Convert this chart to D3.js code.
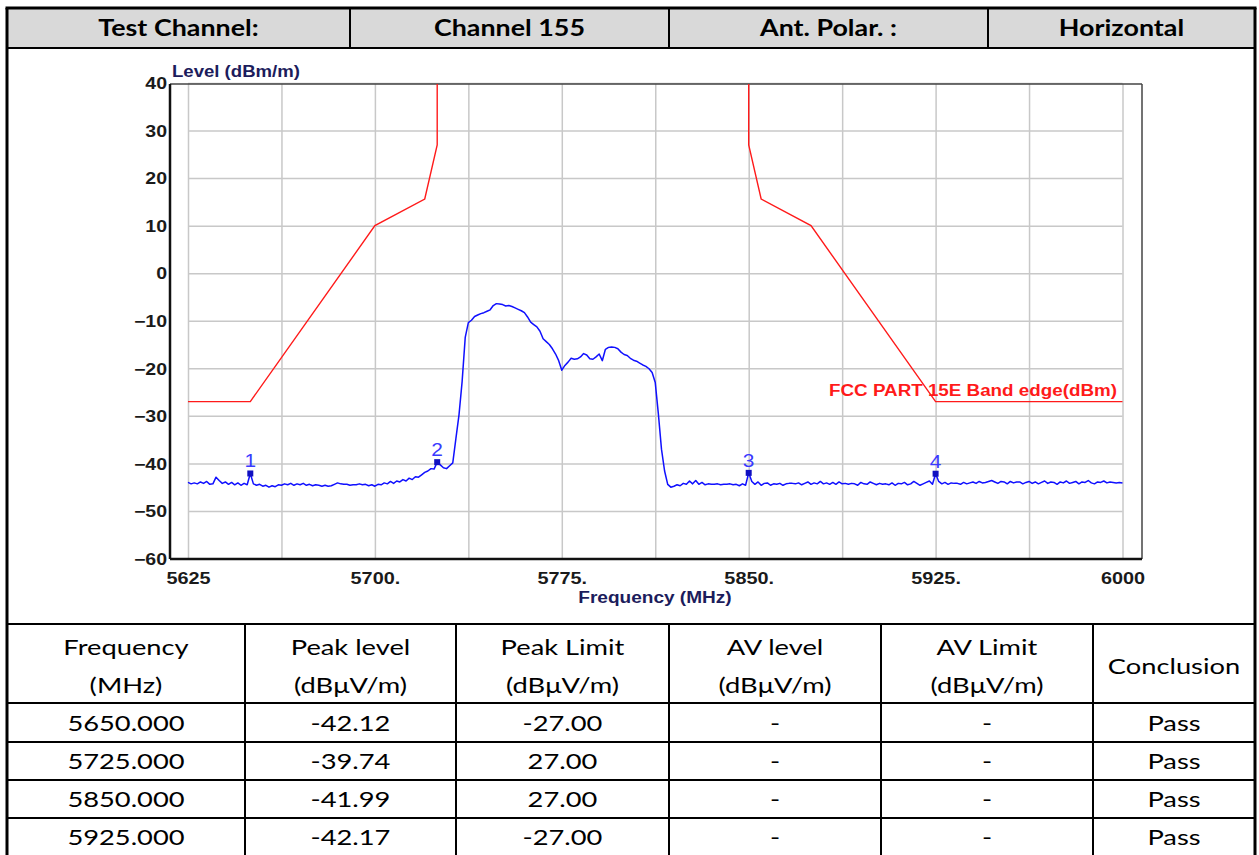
<!DOCTYPE html>
<html>
<head>
<meta charset="utf-8">
<script src="https://cdn.jsdelivr.net/npm/d3@7"></script>
<style>
  html, body { margin: 0; padding: 0; background: #fff; }
  svg { display: block; }
</style>
</head>
<body>
<svg id="page" width="1259" height="855"></svg>
<script>
// ---- header row ----
const headerCells = ["Test Channel:", "Channel 155", "Ant. Polar. :", "Horizontal"];

// ---- spectrum plot axes ----
const yTickValues = [40, 30, 20, 10, 0, -10, -20, -30, -40, -50, -60];
const xTickValues = [5625, 5700, 5775, 5850, 5925, 6000];
const xTickLabels = ["5625", "5700.", "5775.", "5850.", "5925.", "6000"];
const xGridValues = [5625, 5662.5, 5700, 5737.5, 5775, 5812.5, 5850, 5887.5, 5925, 5962.5, 6000];
const yTitle = "Level (dBm/m)";
const xTitle = "Frequency (MHz)";

// ---- measured trace: sweep from 5625 MHz in 1.25 MHz steps (dBm) ----
const traceStartMHz = 5625;
const traceStepMHz = 1.25;
const traceLevel = [
  -44.0, -44.3, -44.1, -44.3, -43.9, -44.2, -43.8, -44.4,   // 5625
  -44.3, -42.9, -43.6, -44.2, -43.9, -44.4, -44.0, -44.5,   // 5635
  -44.1, -44.6, -44.2, -44.5, -42.12, -44.3, -44.6, -44.4,  // 5645
  -44.8, -44.6, -45.0, -44.7, -44.9, -44.5, -44.6, -44.3,   // 5655
  -44.5, -44.2, -44.6, -44.3, -44.5, -44.2, -44.6, -44.4,   // 5665
  -44.7, -44.5, -44.6, -44.8, -44.6, -44.8, -44.7, -44.4,   // 5675
  -44.1, -44.3, -44.4, -44.4, -44.6, -44.5, -44.5, -44.3,   // 5685
  -44.5, -44.4, -44.7, -44.5, -44.8, -44.4, -44.5, -44.1,   // 5695
  -44.3, -43.8, -44.2, -43.7, -43.9, -43.4, -43.7, -43.1,   // 5705
  -43.4, -42.8, -42.9, -42.4, -41.9, -41.6, -41.1, -41.2,   // 5715
  -39.74, -40.3, -40.9, -41.1, -40.5, -39.9, -34.8, -29.8,  // 5725
  -22.8, -13.5, -10.4, -9.9, -9.1, -8.8, -8.5, -8.3,        // 5735
  -8.0, -7.7, -6.8, -6.4, -6.5, -6.6, -6.9, -6.8,           // 5745
  -7.0, -7.3, -7.6, -7.9, -8.3, -9.2, -10.3, -10.8,         // 5755
  -11.3, -12.2, -13.8, -14.4, -15.0, -15.9, -17.0, -18.4,   // 5765
  -20.4, -19.4, -18.7, -17.9, -18.1, -18.0, -17.6, -16.9,   // 5775
  -17.2, -18.0, -18.1, -17.6, -17.0, -18.4, -16.0, -15.6,   // 5785
  -15.5, -15.6, -15.9, -16.6, -17.1, -17.3, -17.9, -18.3,   // 5795
  -18.5, -18.9, -19.3, -19.6, -20.1, -20.9, -23.0, -29.6,   // 5805
  -37.0, -41.6, -44.4, -45.0, -44.8, -44.5, -44.7, -44.2,   // 5815
  -44.4, -43.7, -44.3, -43.6, -44.4, -44.0, -44.5, -44.3,   // 5825
  -44.4, -44.4, -44.3, -44.5, -44.4, -44.4, -44.3, -44.5,   // 5835
  -44.4, -44.7, -44.3, -44.6, -41.99, -43.8, -44.4, -43.9,  // 5845
  -44.6, -44.2, -44.1, -44.6, -44.3, -44.4, -44.2, -44.6,   // 5855
  -44.3, -44.2, -44.2, -44.3, -44.1, -44.5, -44.2, -43.9,   // 5865
  -44.4, -44.1, -44.3, -43.8, -44.3, -44.1, -44.4, -44.0,   // 5875
  -44.4, -43.9, -44.3, -44.2, -44.4, -44.2, -44.3, -44.6,   // 5885
  -44.0, -44.3, -44.4, -43.9, -44.2, -44.5, -44.2, -44.4,   // 5895
  -44.3, -44.5, -44.1, -44.6, -44.2, -44.3, -44.0, -44.5,   // 5905
  -44.3, -43.8, -44.2, -44.6, -44.3, -44.0, -43.7, -44.4,   // 5915
  -42.17, -43.8, -44.3, -44.0, -44.4, -44.1, -44.2, -44.2,  // 5925
  -44.4, -44.0, -44.3, -44.1, -43.9, -44.2, -43.8, -44.1,   // 5935
  -44.0, -43.8, -43.6, -43.9, -44.2, -43.8, -43.9, -44.3,   // 5945
  -43.8, -44.1, -43.9, -43.9, -44.3, -44.0, -43.8, -44.2,   // 5955
  -43.9, -44.3, -44.0, -43.7, -44.2, -43.9, -44.0, -44.4,   // 5965
  -43.9, -44.1, -43.7, -44.2, -44.0, -43.8, -44.3, -43.9,   // 5975
  -44.0, -43.6, -44.1, -44.3, -43.9, -44.0, -43.7, -44.1,   // 5985
  -43.9, -44.0, -44.1, -44.0, -44.1                         // 5995
];

// ---- FCC Part 15E band-edge limit (null splits the two skirts) ----
const limitFreq  = [5625, 5650, 5700, 5720, 5725, 5725, null, 5850, 5850, 5855, 5875, 5925, 6000];
const limitLevel = [-27, -27, 10, 15.6, 27, 40, null, 40, 27, 15.6, 10, -27, -27];
const limitName = "FCC PART 15E Band edge(dBm)";

// ---- markers ----
const markerNo    = ["1", "2", "3", "4"];
const markerFreq  = [5650, 5725, 5850, 5925];
const markerLevel = [-42.12, -39.74, -41.99, -42.17];

// ---- result table ----
const tableHead = [["Frequency", "(MHz)"], ["Peak level", "(dB\u03bcV/m)"], ["Peak Limit", "(dB\u03bcV/m)"],
                   ["AV level", "(dB\u03bcV/m)"], ["AV Limit", "(dB\u03bcV/m)"], ["Conclusion"]];
const resultFreq  = ["5650.000", "5725.000", "5850.000", "5925.000"];
const peakLevel   = ["-42.12", "-39.74", "-41.99", "-42.17"];
const peakLimit   = ["-27.00", "27.00", "27.00", "-27.00"];
const avLevel     = ["-", "-", "-", "-"];
const avLimit     = ["-", "-", "-", "-"];
const conclusion  = ["Pass", "Pass", "Pass", "Pass"];

// ================= drawing =================
const svg = d3.select("#page");

// widen glyphs horizontally by factor k
function stretch(sel, k) {
  sel.each(function () {
    const w = this.getComputedTextLength();
    d3.select(this).attr("textLength", w * k).attr("lengthAdjust", "spacingAndGlyphs");
  });
}

const L = 7, R = 1255;
const rowTop = 8, rowHead = 48, rowChart = 624;
const rowLines = [703, 742, 780, 818, 856];

// header band
svg.append("rect").attr("x", L).attr("y", rowTop).attr("width", R - L).attr("height", rowHead - rowTop)
  .attr("fill", "#d9d9d9");
const headX = [L, 350, 669, 988, R];
const tableFont = "Lato, 'Noto Sans', sans-serif";
svg.append("g").selectAll("text").data(headerCells).join("text")
  .attr("x", (d, i) => (headX[i] + headX[i + 1]) / 2)
  .attr("y", 36)
  .attr("text-anchor", "middle")
  .attr("font-family", tableFont).attr("font-weight", 700).attr("font-size", 22)
  .attr("fill", "#000")
  .text(d => d)
  .call(stretch, 1.22);

// ---- plot ----
const x = d3.scaleLinear().domain([5625, 6000]).range([188, 1122.5]);
const y = d3.scaleLinear().domain([-60, 40]).range([558.5, 83]);
const frame = { left: 170, right: 1142, top: 84, bottom: 559 };
const chartFont = "'Liberation Sans', Arial, sans-serif";

// grid
svg.append("g").attr("transform", `translate(0,${y(-60)})`)
  .call(d3.axisBottom(x).tickValues(xGridValues).tickSize(-(y(-60) - frame.top)).tickFormat(""))
  .call(g => g.select(".domain").remove())
  .call(g => g.selectAll("line").attr("stroke", "#c8c8c8").attr("stroke-width", 1.5));
svg.append("g").attr("transform", `translate(${x(5625)},0)`)
  .call(d3.axisLeft(y).tickValues(yTickValues).tickSize(-(x(6000) - x(5625))).tickFormat(""))
  .call(g => g.select(".domain").remove())
  .call(g => g.selectAll("line").attr("stroke", "#c8c8c8").attr("stroke-width", 1.5));

// frame
svg.append("line").attr("x1", frame.left).attr("x2", frame.right).attr("y1", frame.top).attr("y2", frame.top)
  .attr("stroke", "#444").attr("stroke-width", 1.5);
svg.append("line").attr("x1", frame.right).attr("x2", frame.right).attr("y1", frame.top).attr("y2", frame.bottom)
  .attr("stroke", "#444").attr("stroke-width", 1.5);
svg.append("line").attr("x1", frame.left).attr("x2", frame.left).attr("y1", frame.top).attr("y2", frame.bottom)
  .attr("stroke", "#111").attr("stroke-width", 2.5);
svg.append("line").attr("x1", frame.left).attr("x2", frame.right).attr("y1", frame.bottom).attr("y2", frame.bottom)
  .attr("stroke", "#111").attr("stroke-width", 2.5);

// tick labels
const yAx = svg.append("g").attr("transform", `translate(${frame.left},0)`)
  .call(d3.axisLeft(y).tickValues(yTickValues).tickSize(0).tickPadding(3).tickFormat(d3.format("d")));
yAx.select(".domain").remove();
yAx.selectAll("text").attr("font-family", chartFont).attr("font-weight", 700).attr("font-size", 16)
  .attr("fill", "#1a1a1a").attr("dy", "0.36em").call(stretch, 1.22);

const xAx = svg.append("g").attr("transform", `translate(0,${frame.bottom})`)
  .call(d3.axisBottom(x).tickValues(xTickValues).tickSize(0).tickPadding(0)
    .tickFormat((d, i) => xTickLabels[i]));
xAx.select(".domain").remove();
xAx.selectAll("text").attr("font-family", chartFont).attr("font-weight", 700).attr("font-size", 16)
  .attr("fill", "#1a1a1a").attr("y", 25).attr("dy", null).call(stretch, 1.24);

svg.append("text").attr("x", 172).attr("y", 77).attr("font-family", chartFont).attr("font-weight", 700)
  .attr("font-size", 16).attr("fill", "#1c1c5c").text(yTitle).call(stretch, 1.16);
svg.append("text").attr("x", 655).attr("y", 603).attr("text-anchor", "middle").attr("font-family", chartFont)
  .attr("font-weight", 700).attr("font-size", 16).attr("fill", "#1c1c5c").text(xTitle).call(stretch, 1.19);

// clip to plot
svg.append("clipPath").attr("id", "plotClip").append("rect")
  .attr("x", frame.left).attr("y", frame.top).attr("width", frame.right - frame.left).attr("height", frame.bottom - frame.top);

const limitLine = d3.line().defined((d, i) => limitFreq[i] !== null)
  .x((d, i) => x(limitFreq[i])).y((d, i) => y(limitLevel[i]));
svg.append("path").attr("clip-path", "url(#plotClip)").attr("d", limitLine(limitFreq))
  .attr("fill", "none").attr("stroke", "#ff1a1a").attr("stroke-width", 1.4);

svg.append("text").attr("x", 1117).attr("y", 396).attr("text-anchor", "end").attr("font-family", chartFont)
  .attr("font-weight", 700).attr("font-size", 16).attr("fill", "#ff1a1a").text(limitName).call(stretch, 1.175);

const traceLine = d3.line().x((d, i) => x(traceStartMHz + i * traceStepMHz)).y(d => y(d));
svg.append("path").attr("clip-path", "url(#plotClip)").attr("d", traceLine(traceLevel))
  .attr("fill", "none").attr("stroke", "#1010ff").attr("stroke-width", 1.5).attr("stroke-linejoin", "round");

// markers
const mk = svg.append("g");
mk.selectAll("rect").data(markerFreq).join("rect")
  .attr("x", (d) => x(d) - 3).attr("y", (d, i) => y(markerLevel[i]) - 3)
  .attr("width", 6).attr("height", 6).attr("fill", "#1010c0");
mk.selectAll("text").data(markerNo).join("text")
  .attr("x", (d, i) => x(markerFreq[i])).attr("y", (d, i) => y(markerLevel[i]) - 6)
  .attr("text-anchor", "middle").attr("font-family", chartFont).attr("font-size", 19)
  .attr("fill", "#3a3aff").text(d => d).call(stretch, 1.1);

// ---- result table ----
const colX = [L, 245, 456, 669, 881, 1093, R];
const tg = svg.append("g").attr("font-family", tableFont).attr("fill", "#000");
tableHead.forEach((lines, c) => {
  const cx = (colX[c] + colX[c + 1]) / 2;
  if (lines.length === 2) {
    tg.append("text").attr("x", cx).attr("y", 655).attr("text-anchor", "middle").attr("font-size", 22).text(lines[0]).call(stretch, 1.24);
    tg.append("text").attr("x", cx).attr("y", 693).attr("text-anchor", "middle").attr("font-size", 22).text(lines[1]).call(stretch, 1.24);
  } else {
    tg.append("text").attr("x", cx).attr("y", 674).attr("text-anchor", "middle").attr("font-size", 22).text(lines[0]).call(stretch, 1.24);
  }
});
const columns = [resultFreq, peakLevel, peakLimit, avLevel, avLimit, conclusion];
columns.forEach((col, c) => {
  const cx = (colX[c] + colX[c + 1]) / 2;
  tg.append("g").selectAll("text").data(col).join("text")
    .attr("x", cx).attr("y", (d, r) => (rowLines[r] + rowLines[r + 1]) / 2 + 8)
    .attr("text-anchor", "middle").attr("font-size", 22).text(d => d).call(stretch, 1.24);
});

// ---- rules ----
const rules = svg.append("g").attr("stroke", "#000");
// header row dividers
headX.slice(1, -1).forEach(v => rules.append("line").attr("x1", v).attr("x2", v).attr("y1", rowTop).attr("y2", rowHead).attr("stroke-width", 2));
// table column dividers
colX.slice(1, -1).forEach(v => rules.append("line").attr("x1", v).attr("x2", v).attr("y1", rowChart).attr("y2", 856).attr("stroke-width", 2));
// horizontal rules
[rowHead, rowChart].concat(rowLines.slice(0, -1)).forEach(v =>
  rules.append("line").attr("x1", L).attr("x2", R).attr("y1", v).attr("y2", v).attr("stroke-width", 2));
// outer border
rules.append("line").attr("x1", L - 1.5).attr("x2", R + 1.5).attr("y1", rowTop).attr("y2", rowTop).attr("stroke-width", 3);
rules.append("line").attr("x1", L).attr("x2", L).attr("y1", rowTop).attr("y2", 856).attr("stroke-width", 3);
rules.append("line").attr("x1", R).attr("x2", R).attr("y1", rowTop).attr("y2", 856).attr("stroke-width", 3);
</script>
</body>
</html>
